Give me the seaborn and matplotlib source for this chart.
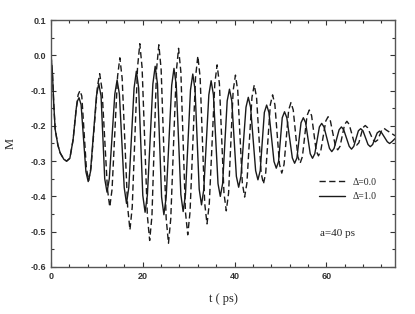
import pandas as pd
import matplotlib
matplotlib.use("Agg")
import matplotlib.pyplot as plt
from matplotlib.ticker import MultipleLocator
import seaborn as sns

# shared initial decay
t_start = [0.0, 0.3, 0.6, 0.9, 1.5, 2.0, 2.8, 3.4, 4.1, 4.8, 5.5]
m_start = [0.0, -0.05, -0.14, -0.21, -0.255, -0.277, -0.295, -0.30, -0.292, -0.24, -0.15]

# Delta = 0.0 (dashed): peaks / troughs with the points either side of each tip
t_d0 = [5.9, 6.3, 6.7, 7.7, 8.2, 8.7, 10.1, 10.6, 11.1, 12.3, 12.8, 13.3,
        14.5, 15.0, 15.5, 16.7, 17.2, 17.7, 18.85, 19.35, 19.85, 21.0, 21.5, 22.0,
        23.0, 23.5, 24.0, 25.1, 25.6, 26.1, 27.3, 27.8, 28.3, 29.3, 29.8, 30.3,
        31.5, 32.0, 32.5, 33.5, 34.0, 34.5, 35.7, 36.2, 36.7, 37.7, 38.2, 38.7,
        39.7, 40.2, 40.7, 41.7, 42.2, 42.7, 43.8, 44.3, 44.8, 45.8, 46.3, 46.8,
        47.8, 48.3, 48.8, 49.8, 50.3, 50.8, 51.8, 52.3, 52.8, 53.8, 54.3, 54.8,
        55.8, 56.3, 56.8, 57.8, 58.3, 58.8, 59.9, 60.4, 60.9, 62.0, 62.5, 63.0,
        64.0, 64.5, 65.0, 66.1, 66.6, 67.1, 68.0, 68.5, 69.0, 70.2, 70.7, 71.2,
        72.1, 72.6, 73.1, 75.0]
m_d0 = [-0.112, -0.10, -0.115, -0.32, -0.355, -0.32, -0.09, -0.052, -0.095, -0.38, -0.43, -0.38,
        -0.06, -0.007, -0.065, -0.43, -0.495, -0.43, -0.035, 0.033, -0.035, -0.455, -0.525, -0.455,
        -0.04, 0.030, -0.04, -0.463, -0.533, -0.463, -0.047, 0.020, -0.047, -0.444, -0.509, -0.444,
        -0.062, -0.002, -0.062, -0.42, -0.478, -0.42, -0.08, -0.027, -0.08, -0.391, -0.441, -0.391,
        -0.10, -0.056, -0.10, -0.362, -0.402, -0.362, -0.119, -0.084, -0.119, -0.333, -0.365, -0.333,
        -0.14, -0.112, -0.14, -0.309, -0.334, -0.309, -0.155, -0.134, -0.155, -0.287, -0.306, -0.287,
        -0.171, -0.155, -0.171, -0.271, -0.285, -0.271, -0.186, -0.174, -0.186, -0.258, -0.268, -0.258,
        -0.196, -0.187, -0.196, -0.248, -0.255, -0.248, -0.205, -0.199, -0.205, -0.24, -0.245, -0.24,
        -0.212, -0.207, -0.212, -0.228]

# Delta = 1.0 (solid)
t_d1 = [5.75, 6.1, 6.55, 7.6, 8.1, 8.6, 9.9, 10.4, 10.9, 11.7, 12.2, 12.7,
        13.9, 14.4, 14.9, 15.95, 16.45, 16.95, 18.1, 18.6, 19.1, 20.0, 20.5, 21.0,
        22.2, 22.7, 23.2, 24.1, 24.6, 25.1, 26.3, 26.8, 27.3, 28.3, 28.8, 29.3,
        30.4, 30.9, 31.4, 32.3, 32.8, 33.3, 34.4, 34.9, 35.4, 36.4, 36.9, 37.4,
        38.4, 38.9, 39.4, 40.4, 40.9, 41.4, 42.5, 43.0, 43.5, 44.6, 45.1, 45.6,
        46.5, 47.0, 47.5, 48.6, 49.1, 49.6, 50.4, 50.9, 51.4, 52.6, 53.1, 53.6,
        54.5, 55.0, 55.5, 56.5, 57.0, 57.5, 58.5, 59.0, 59.5, 60.7, 61.2, 61.7,
        62.8, 63.3, 63.8, 65.0, 65.5, 66.0, 67.0, 67.5, 68.0, 69.1, 69.6, 70.1,
        71.1, 71.6, 72.1, 73.3, 73.8, 74.3, 75.0]
m_d1 = [-0.13, -0.12, -0.14, -0.33, -0.358, -0.33, -0.115, -0.08, -0.115, -0.35, -0.388, -0.35,
        -0.11, -0.07, -0.11, -0.375, -0.42, -0.375, -0.093, -0.045, -0.093, -0.397, -0.445, -0.397,
        -0.081, -0.031, -0.081, -0.402, -0.452, -0.402, -0.085, -0.037, -0.085, -0.395, -0.443, -0.395,
        -0.098, -0.053, -0.098, -0.38, -0.424, -0.38, -0.112, -0.072, -0.112, -0.364, -0.400, -0.364,
        -0.129, -0.096, -0.129, -0.343, -0.374, -0.343, -0.147, -0.119, -0.147, -0.327, -0.353, -0.327,
        -0.162, -0.141, -0.162, -0.301, -0.320, -0.301, -0.177, -0.160, -0.177, -0.291, -0.306, -0.291,
        -0.191, -0.177, -0.191, -0.279, -0.292, -0.279, -0.203, -0.193, -0.203, -0.264, -0.273, -0.264,
        -0.211, -0.203, -0.211, -0.258, -0.266, -0.258, -0.214, -0.208, -0.214, -0.253, -0.259, -0.253,
        -0.22, -0.215, -0.22, -0.245, -0.25, -0.245, -0.236]

df0 = pd.DataFrame({"t": t_start + t_d0, "M": m_start + m_d0})
df1 = pd.DataFrame({"t": t_start + t_d1, "M": m_start + m_d1})

sns.set_style("ticks")
plt.rcParams["font.family"] = ["Liberation Sans", "DejaVu Sans"]

fig = plt.figure(figsize=(4.15, 3.14), dpi=100)
ax = fig.add_axes([0.123, 0.150, 0.829, 0.786])

line_col = "#1a1a1a"
sns.lineplot(data=df0, x="t", y="M", ax=ax, color=line_col, lw=1.0,
             linestyle=(0, (4.5, 2.5)), label="\u0394=0.0")
sns.lineplot(data=df1, x="t", y="M", ax=ax, color=line_col, lw=1.0,
             label="\u0394=1.0")

ax.set_xlim(0, 75)
ax.set_ylim(-0.6, 0.1)
ax.xaxis.set_major_locator(MultipleLocator(20))
ax.xaxis.set_minor_locator(MultipleLocator(4))
ax.yaxis.set_major_locator(MultipleLocator(0.1))
ax.yaxis.set_minor_locator(MultipleLocator(0.05))
ax.yaxis.set_major_formatter(plt.FuncFormatter(lambda v, p: f"{v:.1f}"))

ax.tick_params(which="both", direction="in", top=True, right=True,
               labelsize=6.5, colors="#333333", width=0.8)
ax.tick_params(which="major", length=3.5)
ax.tick_params(which="minor", length=2.2)
for lab in ax.get_xticklabels() + ax.get_yticklabels():
    lab.set_fontweight("bold")
for s in ax.spines.values():
    s.set_color("#555555")
    s.set_linewidth(1.0)

ax.set_xlabel("t ( ps)", family="Liberation Serif", fontsize=9, labelpad=9)
ax.set_ylabel("M", family="Liberation Serif", fontsize=9, labelpad=10)

ax.legend(loc="center left", bbox_to_anchor=(0.753, 0.314), frameon=False,
          prop={"family": "Liberation Serif", "size": 7},
          handlelength=2.7, handletextpad=0.8, labelspacing=0.55,
          borderpad=0.4)

ax.text(0.834, 0.134, "a=40 ps", transform=ax.transAxes, ha="center", va="center",
        family="Liberation Serif", fontsize=8)

fig.savefig("out.png", dpi=100)
